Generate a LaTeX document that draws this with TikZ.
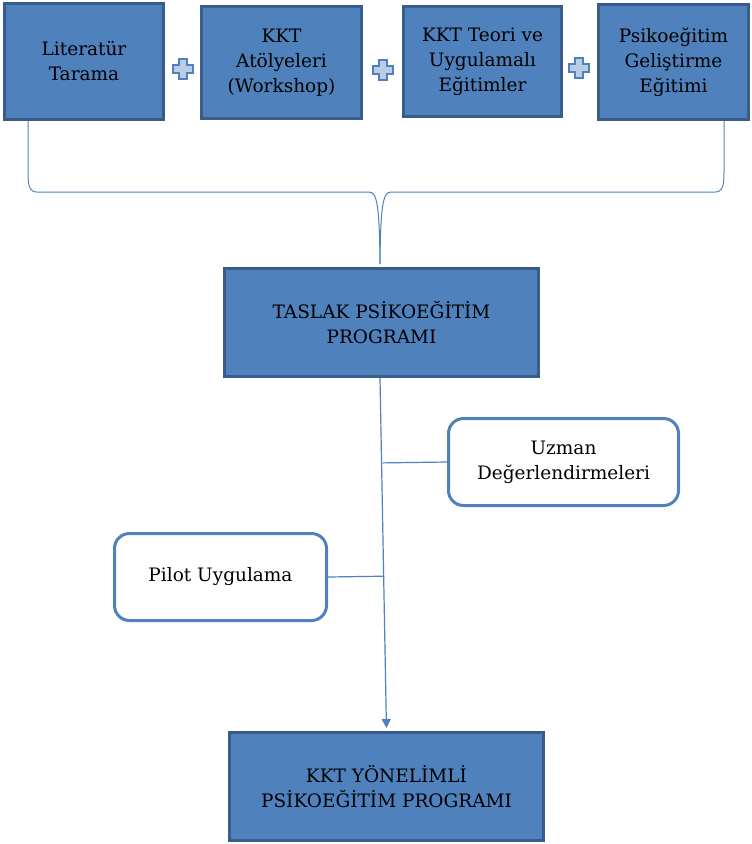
\documentclass[tikz,border=0pt]{standalone}
\usepackage{fontspec}
\setmainfont{DejaVu Serif}
\usetikzlibrary{arrows.meta,calc}
\definecolor{boxfill}{RGB}{79,129,189}
\definecolor{boxdraw}{RGB}{56,93,138}
\definecolor{linec}{RGB}{79,129,189}
\definecolor{plusfill}{RGB}{185,205,229}
\tikzset{
  bluebox/.style={draw=boxdraw, fill=boxfill, line width=3pt, align=center, inner sep=2pt,
    font=\fontsize{18.5}{25}\selectfont, text=black},
  roundbox/.style={draw=linec, fill=white, line width=3pt, rounded corners=15pt, align=center,
    inner sep=2pt, font=\fontsize{18.5}{25}\selectfont, text=black},
  conn/.style={draw=linec, line width=1.2pt},
  plussign/.pic={
    \filldraw[fill=plusfill, draw=linec, line width=1.6pt]
      (-4,-10) -- (4,-10) -- (4,-4) -- (10,-4) -- (10,4) -- (4,4) -- (4,10)
      -- (-4,10) -- (-4,4) -- (-10,4) -- (-10,-4) -- (-4,-4) -- cycle;
  }
}
\begin{document}
\begin{tikzpicture}[x=1pt,y=-1pt]
\useasboundingbox (0,0) rectangle (752,844);
% top boxes
\node[bluebox, minimum width=159pt, minimum height=116pt] (lit) at (84,61.5) {Literatür\\Tarama};
\node[bluebox, minimum width=160pt, minimum height=112pt] (atol) at (281.5,62.5) {KKT\\Atölyeleri\\(Workshop)};
\node[bluebox, minimum width=158pt, minimum height=110pt] (teori) at (482.5,61.5) {KKT Teori ve\\Uygulamalı\\Eğitimler};
\node[bluebox, minimum width=150pt, minimum height=115pt] (psiko) at (673.5,62) {Psikoeğitim\\Geliştirme\\Eğitimi};
% plus signs
\pic at (183,69) {plussign};
\pic at (383,70) {plussign};
\pic at (579,68) {plussign};
% middle and bottom boxes
\node[bluebox, minimum width=314pt, minimum height=108pt] (taslak) at (381.5,322.5) {TASLAK PSİKOEĞİTİM\\PROGRAMI};
\node[roundbox, minimum width=230pt, minimum height=87pt] (uzman) at (563.5,462) {Uzman\\Değerlendirmeleri};
\node[roundbox, minimum width=212pt, minimum height=87pt] (pilot) at (220.5,577) {Pilot Uygulama};
\node[bluebox, minimum width=314pt, minimum height=108pt] (final) at (386.5,786.5) {KKT YÖNELİMLİ\\PSİKOEĞİTİM PROGRAMI};
% brace connector
\coordinate (bl) at ($(lit.south west)+(25,0)$);
\coordinate (br) at ($(psiko.south east)+(-26,0)$);
\coordinate (bt) at ($(taslak.north)+(-1.5,-3)$);
\draw[conn, line width=1pt]
  (bl) -- ++(0,52) .. controls ++(0,14) and ++(-7,0) .. ++(9,19)
  -- (369,192) .. controls (377,192) and (379.5,205) .. (bt);
\draw[conn, line width=1pt]
  (br) -- ++(0,52) .. controls ++(0,14) and ++(7,0) .. ++(-9,19)
  -- (391,192) .. controls (383,192) and (380.5,205) .. (bt);
% trunk
\draw[conn, -{Triangle[length=9pt,width=9pt]}, shorten >=3pt] ($(taslak.south)+(-1.5,0)$) -- (final.north);
\draw[conn] (uzman.west) -- ($(taslak.south)!(uzman.west)!(final.north)$);
\draw[conn] (pilot.east) -- ($(taslak.south)!(pilot.east)!(final.north)$);
\end{tikzpicture}
\end{document}
